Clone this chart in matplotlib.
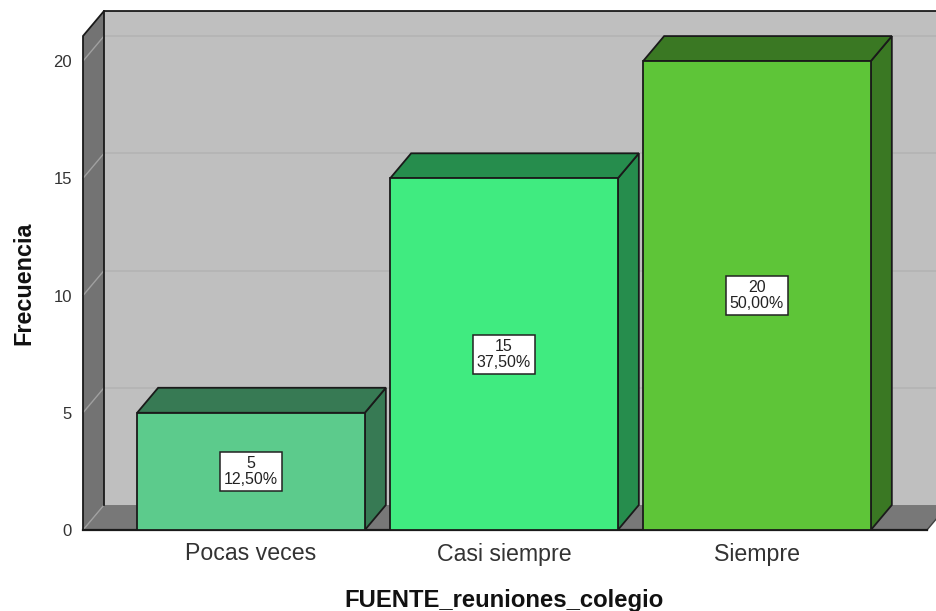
"""Bar chart with a fake 3D box, SPSS style."""

import matplotlib
matplotlib.use("Agg")
import matplotlib.pyplot as plt
from matplotlib.patches import Polygon

categories = ["Pocas veces", "Casi siempre", "Siempre"]
counts = [5, 15, 20]
percents = ["12,50%", "37,50%", "50,00%"]
y_ticks = [0, 5, 10, 15, 20]
front_colors = ["#5CCB8C", "#40EB80", "#5EC538"]
side_colors = ["#377A54", "#268D4D", "#3A7823"]

WIDTH, HEIGHT = 936, 611
BAR_WIDTH = 0.9
DX = 0.083  # depth of the box in x data units
DY = 1.066  # depth of the box in y data units
EDGE = "#1A1A1A"
XMIN, XMAX = -0.664, 2.672
YMAX = 21.07

plt.rcParams["font.family"] = ["Liberation Sans", "DejaVu Sans"]

fig = plt.figure(figsize=(WIDTH / 100, HEIGHT / 100), dpi=100)
ax = fig.add_axes([83 / WIDTH, 1 - 530 / HEIGHT, (927 - 83) / WIDTH, (530 - 36) / HEIGHT])
ax.set_xlim(XMIN, XMAX)
ax.set_ylim(0, YMAX)
ax.patch.set_visible(False)
for spine in ax.spines.values():
    spine.set_visible(False)


def poly(points, face, edge="none", lw=1.3, zorder=1):
    ax.add_patch(Polygon(points, closed=True, facecolor=face, edgecolor=edge,
                         linewidth=lw, zorder=zorder, clip_on=False,
                         joinstyle="miter"))


# walls and floor
back_right = XMAX + DX
poly([(XMIN + DX, DY), (back_right, DY), (back_right, YMAX + DY), (XMIN + DX, YMAX + DY)], "#BFBFBF")
poly([(XMIN, 0), (XMIN + DX, DY), (XMIN + DX, YMAX + DY), (XMIN, YMAX)], "#737373")
poly([(XMIN, 0), (XMAX, 0), (back_right, DY), (XMIN + DX, DY)], "#787878")

# gridlines on the back wall and the left wall
for tick in y_ticks[1:]:
    ax.plot([XMIN + DX, back_right], [tick + DY, tick + DY], color="#B3B3B3",
            lw=1.2, zorder=2, clip_on=False)
for tick in y_ticks:
    ax.plot([XMIN, XMIN + DX], [tick, tick + DY], color="#A0A0A0",
            lw=1.0, zorder=2, clip_on=False)

# box outline
ax.plot([XMIN, XMIN, XMIN + DX, back_right], [0, YMAX, YMAX + DY, YMAX + DY],
        color=EDGE, lw=1.3, zorder=3, clip_on=False, solid_joinstyle="miter")
ax.plot([XMIN + DX, XMIN + DX], [DY, YMAX + DY], color=EDGE, lw=1.3, zorder=3, clip_on=False)
ax.plot([XMAX, back_right], [0, DY], color="#404040", lw=1, zorder=3, clip_on=False)
ax.plot([XMIN, XMAX], [0, 0], color=EDGE, lw=1.6, zorder=3, clip_on=False)

# bars
for i, value in enumerate(counts):
    left, right = i - BAR_WIDTH / 2, i + BAR_WIDTH / 2
    poly([(right, 0), (right + DX, DY), (right + DX, value + DY), (right, value)],
         side_colors[i], EDGE, zorder=4)
    poly([(left, value), (right, value), (right + DX, value + DY), (left + DX, value + DY)],
         side_colors[i], EDGE, zorder=4)
    poly([(left, 0), (right, 0), (right, value), (left, value)],
         front_colors[i], EDGE, zorder=5)
    ax.text(i, value / 2, f"{value}\n{percents[i]}", ha="center", va="center",
            fontsize=11.5, color="#222222", linespacing=1.1, zorder=6,
            bbox=dict(boxstyle="square,pad=0.24", facecolor="white",
                      edgecolor="#222222", linewidth=1.1))

ax.set_xticks(range(len(categories)))
ax.set_xticklabels(categories, fontsize=16.7, color="#333333")
ax.set_yticks(y_ticks)
ax.tick_params(axis="x", length=0, pad=9)
ax.tick_params(axis="y", length=0, pad=8, labelsize=12, labelcolor="#333333")

fig.text(504 / WIDTH, 1 - 600 / HEIGHT, "FUENTE_reuniones_colegio", ha="center",
         va="center", fontsize=17.2, fontweight="bold", color="#111111")
fig.text(24 / WIDTH, 1 - 283 / HEIGHT, "Frecuencia", ha="center", va="center",
         rotation=90, fontsize=16.8, fontweight="bold", color="#111111")

fig.savefig("out.png", dpi=100)
